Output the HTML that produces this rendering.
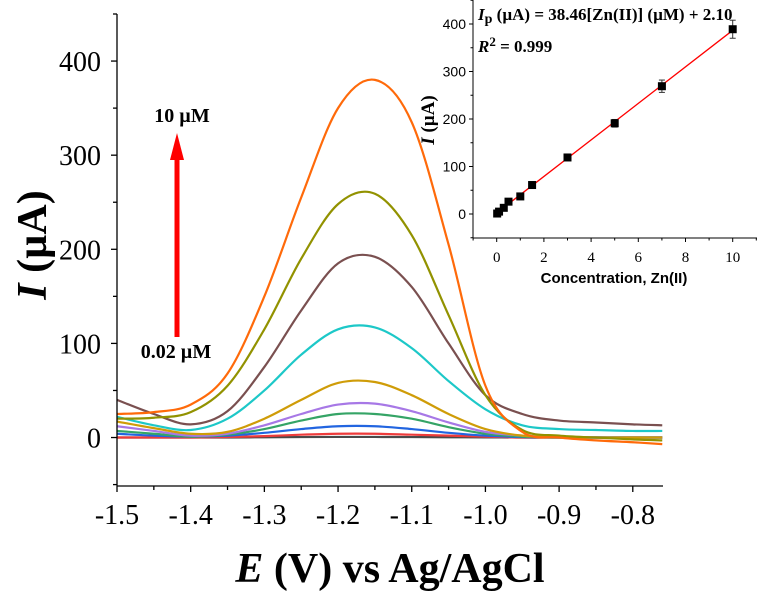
<!DOCTYPE html>
<html><head><meta charset="utf-8"><style>
html,body{margin:0;padding:0;background:#fff;}
svg{display:block;}
</style></head><body>
<svg id="chart" width="757" height="592" viewBox="0 0 757 592" xmlns="http://www.w3.org/2000/svg">
<g id="main"></g>
<g id="inset"></g>
</svg>
<script>
// ---- main chart data ----
const potentials = [-1.5,-1.45,-1.4,-1.35,-1.3,-1.25,-1.2,-1.15,-1.1,-1.05,-1.0,-0.95,-0.9,-0.85,-0.8,-0.76];
const seriesNames = ['0.02uM','0.1uM','0.3uM','0.5uM','1uM','1.5uM','3uM','5uM','7uM','10uM'];
const seriesColors = ['#4a4a4a','#ee3b3b','#2265e0','#35a466','#a778e6','#cf9c08','#1dc8c8','#7a5050','#929200','#ff6a0a'];
const s002 = [0,0,0,0,0.3,0.5,0.6,0.6,0.5,0.3,0.2,0,0,0,0,0];
const s01 = [0,0,0,0.5,1.5,3,4,4,3,2,1,0,0,0,0,0];
const s03 = [4,2,1,2,5,9,12,12,9,5,2,0.5,0,0,0,0];
const s05 = [7,4,1,3,9,18,25,25,20,11,4,1,0,0,0,0];
const s1 = [12,7,2,4,13,25,35,36,28,16,6,2,0.5,0,0,0];
const s15 = [17,10,4,6,20,40,58,59,45,25,9,2,0.5,0,0,0];
const s3 = [22,13,8,20,50,88,115,117,95,60,30,13,9,8,7,7];
const s5 = [40,25,14,28,75,135,185,192,160,100,45,25,18,16,14,13];
const s7 = [20,21,27,55,115,190,248,259,215,130,45,8,2,0,-2,-3];
const s10 = [25,27,35,68,150,255,350,380,335,205,55,6,0,-3,-5,-7];
const allSeries = [s002,s01,s03,s05,s1,s15,s3,s5,s7,s10];
const xTicks = [-1.5,-1.4,-1.3,-1.2,-1.1,-1.0,-0.9,-0.8];
const xTickLabels = ['-1.5','-1.4','-1.3','-1.2','-1.1','-1.0','-0.9','-0.8'];
const yTicks = [0,100,200,300,400];
const yTickLabels = ['0','100','200','300','400'];

// ---- inset data ----
const concs = [0.02,0.1,0.3,0.5,1,1.5,3,5,7,10];
const currents = [1,5,13,26,37,61,119,191,269,389];
const errs = [2,2,2,3,3,3,4,8,13,19];
const fitSlope = [38.46];
const fitIntercept = [2.10];
const insetXTicks = [0,2,4,6,8,10];
const insetYTicks = [0,100,200,300,400];

const NS='http://www.w3.org/2000/svg';
function mk(parent,tag,attrs){const e=document.createElementNS(NS,tag);for(const k in attrs)e.setAttribute(k,attrs[k]);parent.appendChild(e);return e;}
function smooth(pts){let d='M'+pts[0][0].toFixed(2)+','+pts[0][1].toFixed(2);
 for(let i=0;i<pts.length-1;i++){const p0=pts[i-1]||pts[i],p1=pts[i],p2=pts[i+1],p3=pts[i+2]||p2;
  const c1=[p1[0]+(p2[0]-p0[0])/6,p1[1]+(p2[1]-p0[1])/6],c2=[p2[0]-(p3[0]-p1[0])/6,p2[1]-(p3[1]-p1[1])/6];
  d+='C'+c1[0].toFixed(2)+','+c1[1].toFixed(2)+' '+c2[0].toFixed(2)+','+c2[1].toFixed(2)+' '+p2[0].toFixed(2)+','+p2[1].toFixed(2);}
 return d;}

// main axes
const X0=117,X1=663,Y0=486,Y1=14;
const xMin=-1.5,xMax=-0.759,yMin=-51.5,yMax=450;
const xs=v=>X0+(v-xMin)/(xMax-xMin)*(X1-X0);
const ys=v=>Y0-(v-yMin)/(yMax-yMin)*(Y0-Y1);
const main=document.getElementById('main');
const serif='"Liberation Serif", serif', sans='"Liberation Sans", sans-serif';

const curves=mk(main,'g',{});


allSeries.forEach((s,i)=>{
 const p=mk(curves,'path',{d:smooth(potentials.map((e,j)=>[xs(e),ys(s[j])])),fill:'none',stroke:seriesColors[i],'stroke-width':2.2});
 
 
});
const ax=mk(main,'g',{stroke:'#000','stroke-width':1.3});


mk(ax,'line',{x1:X0,y1:Y1,x2:X0,y2:Y0});
mk(ax,'line',{x1:X0,y1:Y0,x2:X1,y2:Y0});
for(let v=-50;v<=450;v+=50){mk(ax,'line',{x1:X0-(v%100===0?6:4),y1:ys(v),x2:X0,y2:ys(v)});}
for(let k=0;k<=14;k++){const v=-1.5+k*0.05;mk(ax,'line',{x1:xs(v),y1:Y0,x2:xs(v),y2:Y0+(k%2===0?6:4)});}
yTicks.forEach((v,i)=>{const t=mk(main,'text',{x:101,y:ys(v)+10,'text-anchor':'end','font-family':serif,'font-size':28,transform:'',textLength:''});t.removeAttribute('transform');t.removeAttribute('textLength');t.textContent=yTickLabels[i];
 
 });
xTicks.forEach((v,i)=>{const t=mk(main,'text',{x:xs(v),y:524,'text-anchor':'middle','font-family':serif,'font-size':28});t.textContent=xTickLabels[i];
 
 });
let t=mk(main,'text',{x:0,y:0,transform:'translate(46,245) rotate(-90)','text-anchor':'middle','font-family':serif,'font-size':42,'font-weight':'bold'});
t.innerHTML='<tspan font-style="italic">I</tspan> (µA)';


t=mk(main,'text',{x:390,y:582,'text-anchor':'middle','font-family':serif,'font-size':42,'font-weight':'bold'});
t.innerHTML='<tspan font-style="italic">E</tspan> (V) vs Ag/AgCl';


// arrow
const ar=mk(main,'g',{fill:'#ff0000'});


mk(ar,'rect',{x:174.5,y:158,width:5,height:179});
mk(ar,'polygon',{points:'177,133 170,160 184,160'});
t=mk(main,'text',{x:182,y:122,'text-anchor':'middle','font-family':serif,'font-size':20,'font-weight':'bold'});t.textContent='10 µM';


t=mk(main,'text',{x:176,y:358,'text-anchor':'middle','font-family':serif,'font-size':20,'font-weight':'bold'});t.textContent='0.02 µM';



// inset
const ins=document.getElementById('inset');
const IX0=473,IX1=757,IY0=238,IY1=0;
const ixs=v=>496.7+v*23.6;
const iys=v=>214-v*0.475;
mk(ins,'rect',{x:IX0,y:0,width:757-IX0,height:IY0,fill:'#fff'});
const iax=mk(ins,'g',{stroke:'#000','stroke-width':1});


mk(iax,'line',{x1:IX0,y1:0,x2:IX0,y2:IY0});
mk(iax,'line',{x1:IX0,y1:IY0,x2:IX1,y2:IY0});
for(let v=-50;v<=450;v+=50){mk(iax,'line',{x1:IX0-(v%100===0?4:2.5),y1:iys(v),x2:IX0,y2:iys(v)});}
for(let v=-1;v<=11;v++){mk(iax,'line',{x1:ixs(v),y1:IY0,x2:ixs(v),y2:IY0+(v%2===0?4:2.5)});}
insetYTicks.forEach(v=>{const e=mk(ins,'text',{x:466,y:iys(v)+5,'text-anchor':'end','font-family':sans,'font-size':14});e.textContent=String(v);
 
 });
insetXTicks.forEach(v=>{const e=mk(ins,'text',{x:ixs(v),y:262,'text-anchor':'middle','font-family':serif,'font-size':15});e.textContent=String(v);
 
 });
const fit=mk(ins,'line',{x1:ixs(0),y1:iys(fitIntercept[0]),x2:ixs(10),y2:iys(fitSlope[0]*10+fitIntercept[0]),stroke:'#ff0000','stroke-width':1.3});


concs.forEach((c,i)=>{const g=mk(ins,'g',{});
 
 
 const x=ixs(c),y=iys(currents[i]),e=errs[i]*0.475;
 mk(g,'line',{x1:x,y1:y-e,x2:x,y2:y+e,stroke:'#333','stroke-width':1});
 mk(g,'line',{x1:x-3,y1:y-e,x2:x+3,y2:y-e,stroke:'#333','stroke-width':1});
 mk(g,'line',{x1:x-3,y1:y+e,x2:x+3,y2:y+e,stroke:'#333','stroke-width':1});
 mk(g,'rect',{x:x-4,y:y-4,width:8,height:8,fill:'#000'});});
t=mk(ins,'text',{x:478,y:20,'font-family':serif,'font-size':17,'font-weight':'bold'});
t.innerHTML='<tspan font-style="italic">I</tspan><tspan font-size="14" dy="3">p</tspan><tspan dy="-3"> (µA) = 38.46[Zn(II)] (µM) + 2.10</tspan>';


t=mk(ins,'text',{x:478,y:52,'font-family':serif,'font-size':17,'font-weight':'bold'});
t.innerHTML='<tspan font-style="italic">R</tspan><tspan font-size="13" dy="-6">2</tspan><tspan dy="6"> = 0.999</tspan>';


t=mk(ins,'text',{x:0,y:0,transform:'translate(434,120) rotate(-90)','text-anchor':'middle','font-family':serif,'font-size':19,'font-weight':'bold'});
t.innerHTML='<tspan font-style="italic">I</tspan> (µA)';


t=mk(ins,'text',{x:614,y:283,'text-anchor':'middle','font-family':sans,'font-size':15,'font-weight':'bold'});
t.textContent='Concentration, Zn(II)';


</script>
</body></html>
